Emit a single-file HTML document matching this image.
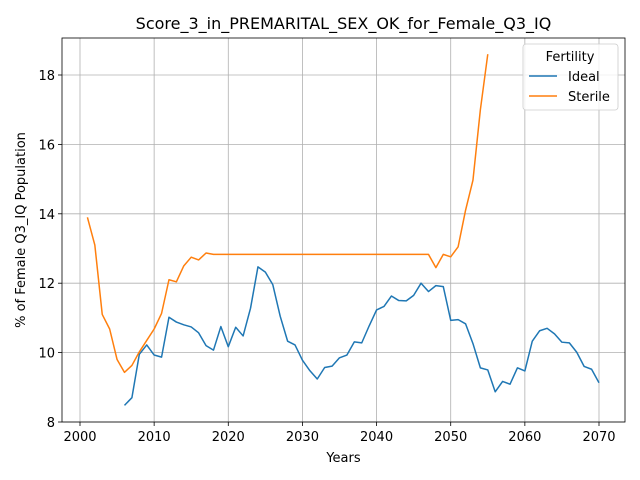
<!DOCTYPE html>
<html><head><meta charset="utf-8"><style>
body{margin:0;background:#fff;}
svg{display:block;font-family:"DejaVu Sans","Liberation Sans",sans-serif;}
</style></head><body>
<svg id="chart" width="640" height="480"></svg>
<script>
const idealYears = [2006,2007,2008,2009,2010,2011,2012,2013,2014,2015,2016,2017,2018,2019,2020,2021,2022,2023,2024,2025,2026,2027,2028,2029,2030,2031,2032,2033,2034,2035,2036,2037,2038,2039,2040,2041,2042,2043,2044,2045,2046,2047,2048,2049,2050,2051,2052,2053,2054,2055,2056,2057,2058,2059,2060,2061,2062,2063,2064,2065,2066,2067,2068,2069,2070];
const idealValues = [8.48,8.7,9.95,10.22,9.93,9.87,11.02,10.88,10.8,10.74,10.57,10.2,10.07,10.75,10.17,10.73,10.48,11.28,12.47,12.32,11.96,11.05,10.33,10.22,9.78,9.48,9.24,9.57,9.61,9.85,9.93,10.31,10.28,10.77,11.23,11.33,11.63,11.5,11.49,11.65,12.0,11.76,11.93,11.9,10.93,10.95,10.83,10.26,9.56,9.5,8.87,9.17,9.09,9.56,9.47,10.33,10.63,10.7,10.54,10.3,10.28,10.01,9.6,9.52,9.13];
const sterileYears = [2001,2002,2003,2004,2005,2006,2007,2008,2009,2010,2011,2012,2013,2014,2015,2016,2017,2018,2019,2020,2021,2022,2023,2024,2025,2026,2027,2028,2029,2030,2031,2032,2033,2034,2035,2036,2037,2038,2039,2040,2041,2042,2043,2044,2045,2046,2047,2048,2049,2050,2051,2052,2053,2054,2055];
const sterileValues = [13.9,13.1,11.1,10.68,9.8,9.43,9.63,10.02,10.35,10.68,11.13,12.1,12.04,12.5,12.75,12.67,12.87,12.83,12.83,12.83,12.83,12.83,12.83,12.83,12.83,12.83,12.83,12.83,12.83,12.83,12.83,12.83,12.83,12.83,12.83,12.83,12.83,12.83,12.83,12.83,12.83,12.83,12.83,12.83,12.83,12.83,12.83,12.45,12.83,12.76,13.05,14.1,14.97,17.0,18.6];
const xTicks = [2000,2010,2020,2030,2040,2050,2060,2070];
const yTicks = [8,10,12,14,16,18];

const L=62,R=625,T=38,B=422;
const x = v => 80 + (v-2000)*(599-80)/70;
const y = v => 422 - (v-8)*(422-75)/10;
const svg = document.getElementById('chart');
const NS='http://www.w3.org/2000/svg';
function mk(tag, attrs, parent){const e=document.createElementNS(NS,tag);for(const k in attrs)e.setAttribute(k,attrs[k]);(parent||svg).appendChild(e);return e;}

const grid = mk('g',{});


xTicks.forEach(t=>{
  const l=mk('line',{x1:x(t),x2:x(t),y1:T,y2:B,stroke:'#b0b0b0','stroke-width':0.8},grid);
  
  
  const tk=mk('line',{x1:x(t),x2:x(t),y1:B,y2:B+4,stroke:'#000','stroke-width':0.8});
  
  
  const tx=mk('text',{x:x(t),y:B+19,'text-anchor':'middle','font-size':13});
  tx.textContent=t;
  
  
});
yTicks.forEach(t=>{
  const l=mk('line',{x1:L,x2:R,y1:y(t),y2:y(t),stroke:'#b0b0b0','stroke-width':0.8},grid);
  
  
  const tk=mk('line',{x1:L-4,x2:L,y1:y(t),y2:y(t),stroke:'#000','stroke-width':0.8});
  
  
  const tx=mk('text',{x:L-7,y:y(t)+5,'text-anchor':'end','font-size':13});
  tx.textContent=t;
  
  
});
function line(xs,vs,color,name){
  const p=mk('polyline',{points:xs.map((a,i)=>x(a)+','+y(vs[i])).join(' '),fill:'none',stroke:color,'stroke-width':1.5,'stroke-linejoin':'round'});
  
  
}
line(idealYears,idealValues,'#1f77b4','ideal-line');
line(sterileYears,sterileValues,'#ff7f0e','sterile-line');
const frame=mk('rect',{x:L,y:T,width:R-L,height:B-T,fill:'none',stroke:'#000','stroke-width':0.8});


const title=mk('text',{x:(L+R)/2,y:29,'text-anchor':'middle','font-size':16});
title.textContent='Score_3_in_PREMARITAL_SEX_OK_for_Female_Q3_IQ';


const xl=mk('text',{x:(L+R)/2,y:462,'text-anchor':'middle','font-size':13});
xl.textContent='Years';


const yl=mk('text',{x:0,y:0,'text-anchor':'middle','font-size':13,transform:'translate(25,230) rotate(-90)'});
yl.textContent='% of Female Q3_IQ Population';


const lg=mk('g',{});


mk('rect',{x:523,y:44,width:95,height:66,rx:3,fill:'#fff','fill-opacity':0.8,stroke:'#ccc','stroke-width':0.8},lg);
const lt=mk('text',{x:570,y:61,'text-anchor':'middle','font-size':13},lg);
lt.textContent='Fertility';


[['Ideal','#1f77b4',81],['Sterile','#ff7f0e',101]].forEach(([n,c,yy])=>{
  const e=mk('g',{},lg);
  
  
  mk('line',{x1:529,x2:557,y1:yy-5,y2:yy-5,stroke:c,'stroke-width':1.5},e);
  const t=mk('text',{x:568,y:yy,'font-size':13},e);
  t.textContent=n;
});
</script>
</body></html>
